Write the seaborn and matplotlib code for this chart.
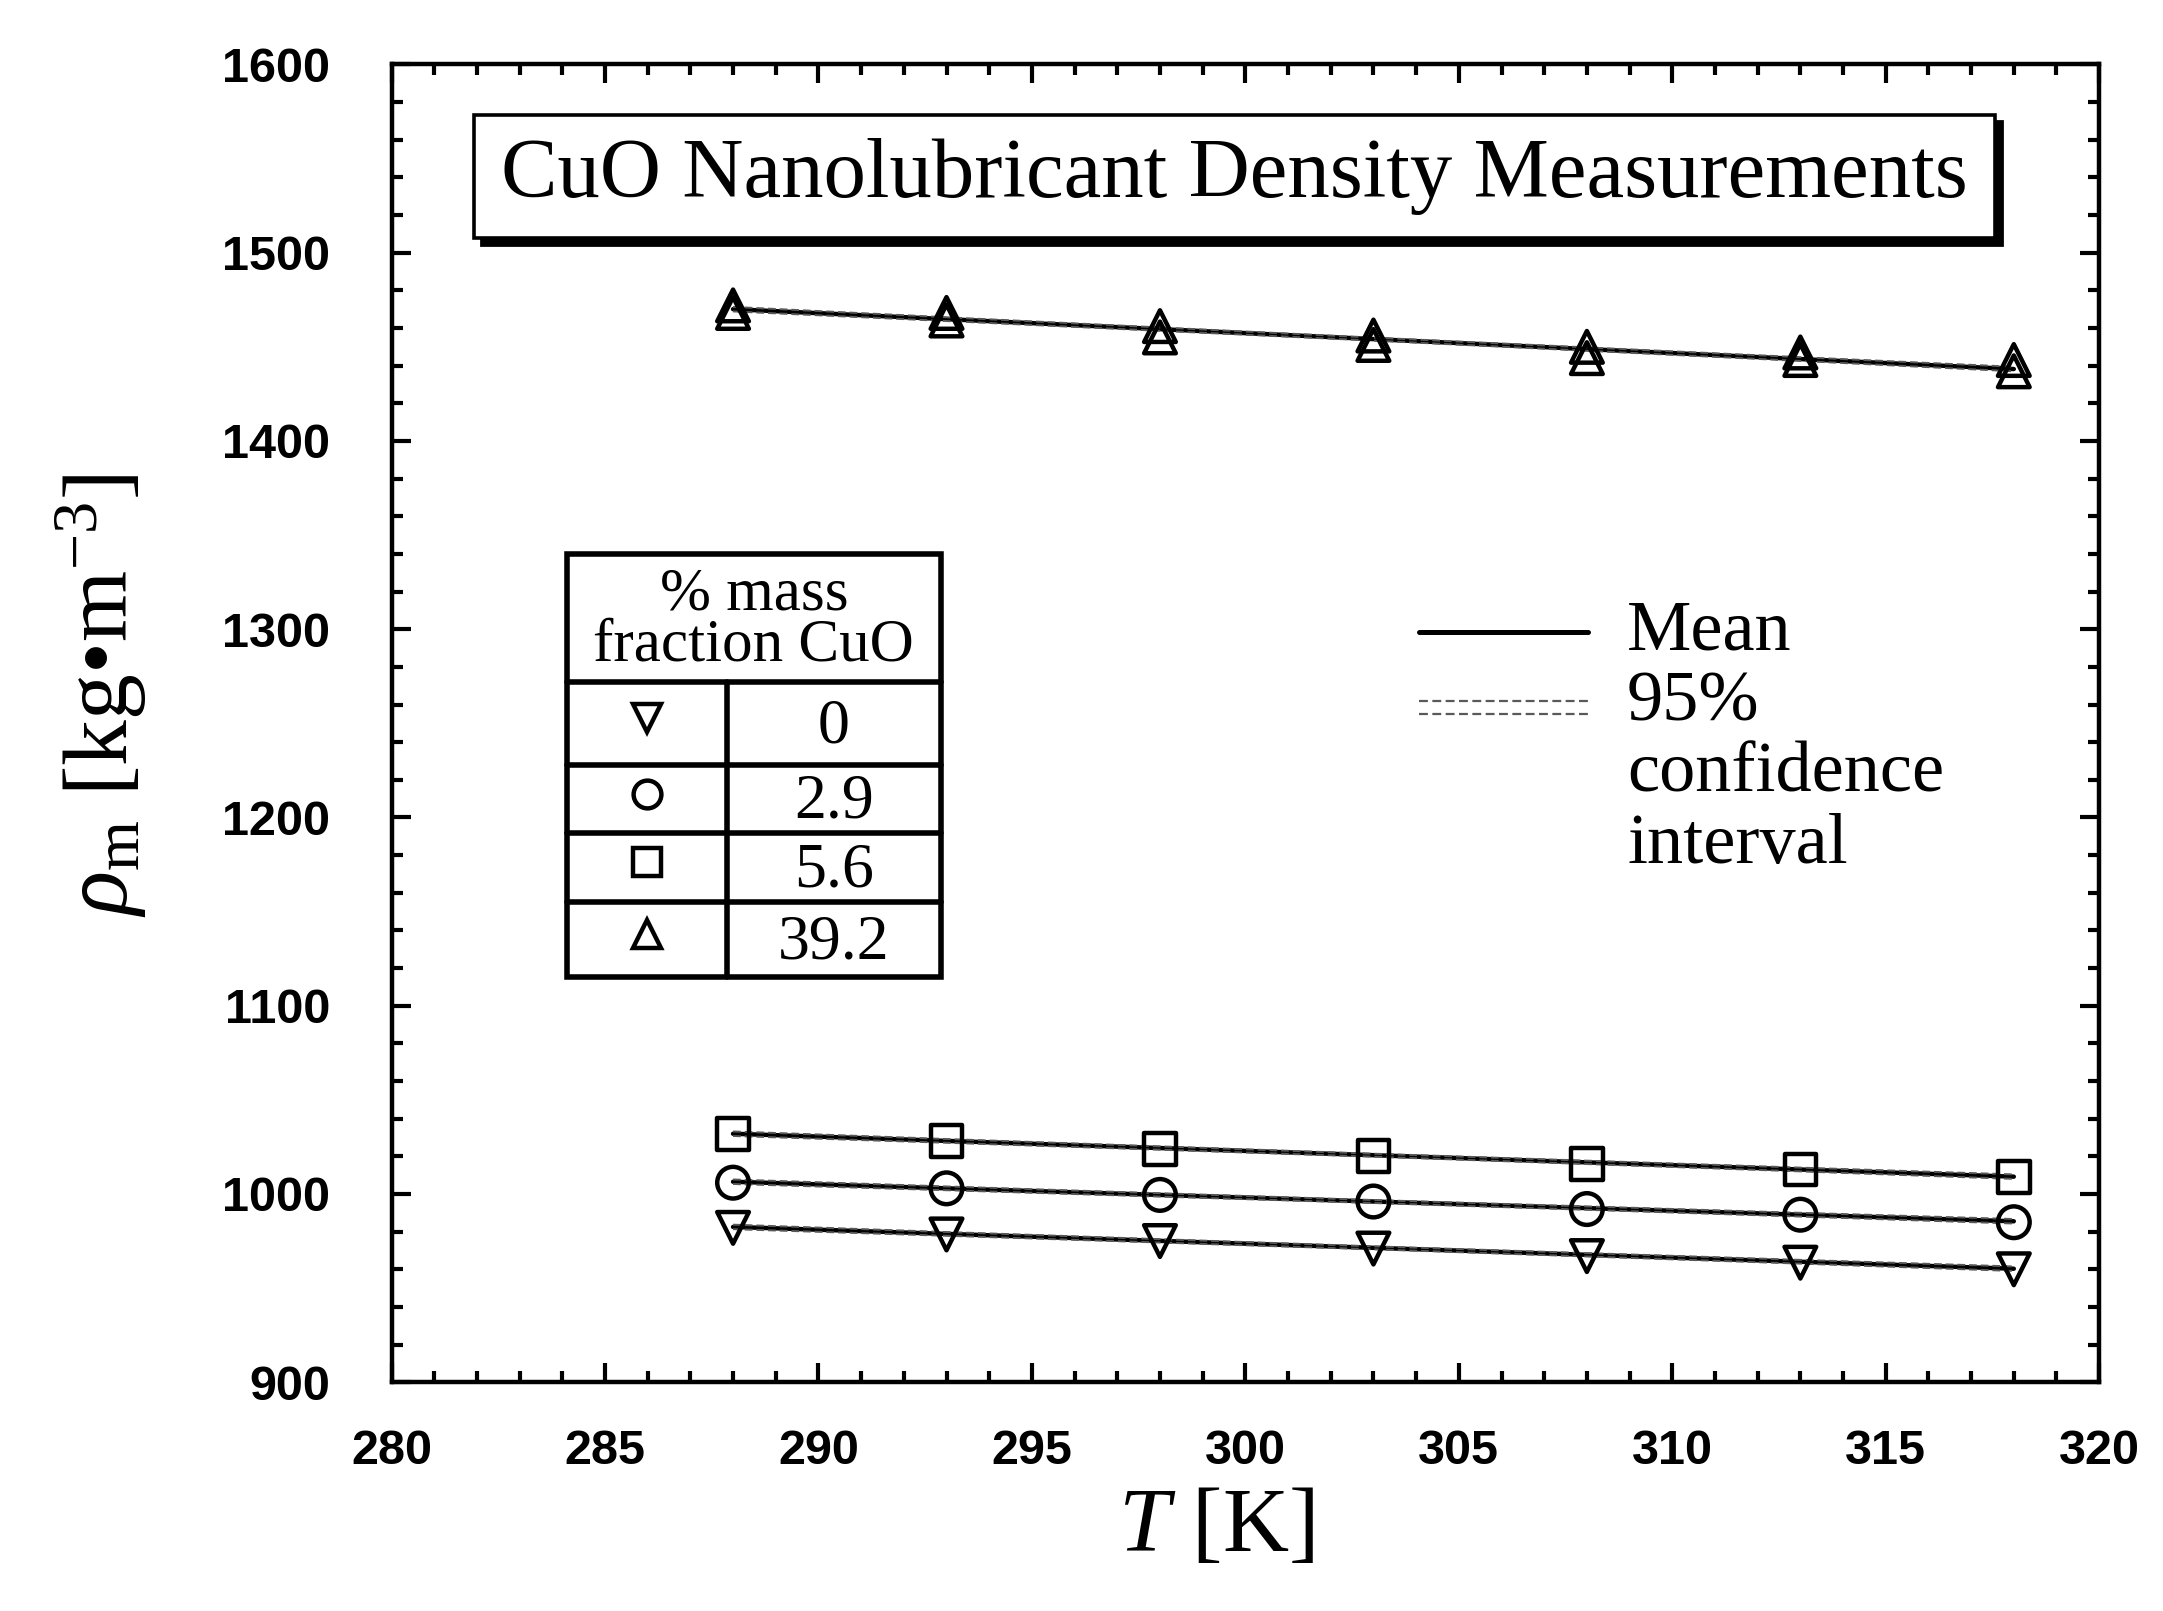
import matplotlib
matplotlib.use("Agg")
import matplotlib.pyplot as plt
import seaborn as sns
import pandas as pd
import numpy as np
from matplotlib.patches import Rectangle
from matplotlib.lines import Line2D
from matplotlib.ticker import MultipleLocator

# ---- data ----
temps = [288, 293, 298, 303, 308, 313, 318]
rho_0 = [982, 978.5, 975, 971, 967, 963.5, 960]
rho_29 = [1006, 1003, 999.5, 996, 992, 989, 985]
rho_56 = [1032, 1028, 1024, 1020, 1016, 1013, 1009]
rho_392_a = [1472, 1468, 1461, 1456, 1450, 1447, 1443]
rho_392_b = [1468, 1464, 1455, 1451, 1444, 1443, 1437]
mean_0 = [982.5, 978.8, 975.1, 971.4, 967.7, 964.0, 960.3]
mean_29 = [1006.5, 1003.0, 999.5, 996.0, 992.5, 989.0, 985.5]
mean_56 = [1032, 1028.2, 1024.4, 1020.6, 1016.8, 1013.0, 1009.2]
mean_392 = [1470, 1464.7, 1459.4, 1454.1, 1448.8, 1443.5, 1438.2]
ci_half = [1.2, 1.0, 0.9, 0.8, 0.9, 1.0, 1.2]
fractions = ["0", "2.9", "5.6", "39.2"]

sns.set_theme(style="white")
plt.rcParams["font.family"] = ["Liberation Serif", "DejaVu Serif"]
plt.rcParams["mathtext.fontset"] = "custom"
plt.rcParams["mathtext.rm"] = "Liberation Serif"
plt.rcParams["mathtext.it"] = "Liberation Serif:italic"
plt.rcParams["text.color"] = "black"
plt.rcParams["axes.labelcolor"] = "black"

fig = plt.figure(figsize=(10.815, 8.055), dpi=200)
ax = fig.add_axes([0.181, 0.142, 0.7895, 0.818])

series = [
    (rho_0, mean_0, "v"),
    (rho_29, mean_29, "o"),
    (rho_56, mean_56, "s"),
    (rho_392_a, mean_392, "^"),
    (rho_392_b, mean_392, "^"),
]
for i, (vals, mean, mk) in enumerate(series):
    df = pd.DataFrame({"T": temps, "rho": vals, "mean": mean, "ci": ci_half})
    if i != 4:
        sns.lineplot(data=df, x="T", y="mean", color="black", lw=1.6, ax=ax)
        lo = pd.DataFrame({"T": temps, "v": np.array(mean) - np.array(ci_half)})
        hi = pd.DataFrame({"T": temps, "v": np.array(mean) + np.array(ci_half)})
        sns.lineplot(data=lo, x="T", y="v", color="0.35", lw=0.7, ls=(0, (4, 2)), ax=ax)
        sns.lineplot(data=hi, x="T", y="v", color="0.35", lw=0.7, ls=(0, (4, 2)), ax=ax)
    sns.scatterplot(data=df, x="T", y="rho", marker=mk, s=130, facecolor="none",
                    edgecolor="black", linewidth=1.6, ax=ax, zorder=5)

ax.set_xlim(280, 320)
ax.set_ylim(900, 1600)
ax.xaxis.set_major_locator(MultipleLocator(5))
ax.xaxis.set_minor_locator(MultipleLocator(1))
ax.yaxis.set_major_locator(MultipleLocator(100))
ax.yaxis.set_minor_locator(MultipleLocator(20))
ax.tick_params(which="both", direction="in", top=True, right=True, bottom=True, left=True,
               color="black", width=1.5)
ax.tick_params(which="major", length=7)
ax.tick_params(which="minor", length=4)
ax.tick_params(axis="y", pad=22)
ax.tick_params(axis="x", pad=17)
for lab in ax.get_xticklabels() + ax.get_yticklabels():
    lab.set_fontfamily("Liberation Sans")
    lab.set_fontweight("bold")
    lab.set_fontsize(17.5)
    lab.set_color("black")
for sp in ax.spines.values():
    sp.set_visible(True)
    sp.set_color("black")
    sp.set_linewidth(1.6)

ax.set_xlabel(r"$T$ [K]", fontsize=33, color="black")
ax.set_ylabel(r"$\rho_{\mathrm{m}}$ [kg•m$^{-3}$]", fontsize=33, color="black")
ax.xaxis.set_label_coords(0.483, -0.080)
ax.yaxis.set_label_coords(-0.142, 0.521)

# title box with shadow
tx0, ty0, tw, th = 0.0485, 0.868, 0.8905, 0.094
ax.add_patch(Rectangle((tx0 + 0.004, ty0 - 0.005), tw, th, transform=ax.transAxes,
                       facecolor="black", edgecolor="black", zorder=6))
ax.add_patch(Rectangle((tx0, ty0), tw, th, transform=ax.transAxes,
                       facecolor="white", edgecolor="black", lw=1.3, zorder=7))
ax.text(tx0 + tw / 2, ty0 + th / 2, "CuO Nanolubricant Density Measurements",
        transform=ax.transAxes, ha="center", va="center", fontsize=30.5, zorder=8)

# table legend
x0, xm, x1 = 0.1027, 0.1964, 0.3217
ys = [0.6284, 0.5316, 0.4684, 0.4168, 0.3642, 0.3074]
ax.add_patch(Rectangle((x0, ys[-1]), x1 - x0, ys[0] - ys[-1], transform=ax.transAxes,
                       facecolor="white", edgecolor="black", lw=2.0, zorder=6))
for y in ys[1:-1]:
    ax.add_line(Line2D([x0, x1], [y, y], transform=ax.transAxes, color="black", lw=2.0, zorder=7))
ax.add_line(Line2D([xm, xm], [ys[1], ys[-1]], transform=ax.transAxes, color="black", lw=2.0, zorder=7))
ax.text((x0 + x1) / 2, (ys[0] + ys[1]) / 2 - 0.002, "% mass\nfraction CuO", transform=ax.transAxes,
        ha="center", va="center", fontsize=22, linespacing=0.9, zorder=8)
tbl_markers = ["v", "o", "s", "^"]
for k in range(4):
    yc = (ys[k + 1] + ys[k + 2]) / 2
    ax.plot([(x0 + xm) / 2], [yc + 0.004], marker=tbl_markers[k], ms=10, mfc="none", mec="black",
            mew=1.6, transform=ax.transAxes, zorder=8)
    ax.text((xm + x1) / 2, yc - 0.003, fractions[k], transform=ax.transAxes, ha="center",
            va="center", fontsize=23, zorder=8)

# line legend
ax.add_line(Line2D([0.6014, 0.7009], [0.5695, 0.5695], transform=ax.transAxes, color="black", lw=1.8))
for y in (0.517, 0.5074):
    ax.add_line(Line2D([0.6014, 0.7009], [y, y], transform=ax.transAxes, color="0.35",
                       lw=0.8, ls=(0, (4, 2))))
ax.text(0.7235, 0.5695, "Mean", transform=ax.transAxes, ha="left", va="center", fontsize=26)
ax.text(0.7235, 0.540, "95%\nconfidence\ninterval", transform=ax.transAxes, ha="left",
        va="top", fontsize=26, linespacing=1.12)

fig.savefig("out.png", dpi=200, facecolor="white")
